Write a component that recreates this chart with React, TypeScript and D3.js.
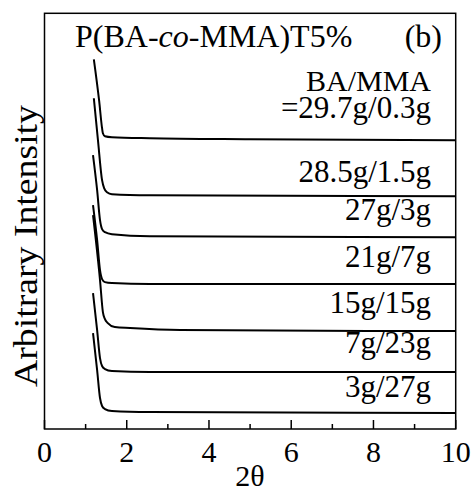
import React from "react";
import * as d3 from "d3";

// 2θ (deg) and arbitrary intensity (offset-stacked) for each BA/MMA ratio
const twoTheta1 = [1.2, 1.33, 1.4, 1.42, 1.47, 1.64, 2.56, 5.0, 10];
const intensity1 = [92.5, 82.0, 75.25, 74.0, 73.25, 73.0, 72.75, 72.5, 72.25];

const twoTheta2 = [1.2, 1.3, 1.4, 1.45, 1.52, 1.64, 2.56, 10];
const intensity2 = [82.75, 72.25, 62.25, 60.25, 59.25, 58.75, 58.5, 58.25];

const twoTheta3 = [1.18, 1.28, 1.35, 1.4, 1.47, 1.64, 2.56, 10];
const intensity3 = [68.5, 59.75, 52.25, 50.0, 49.25, 48.75, 48.25, 48.0];

const twoTheta4 = [1.18, 1.28, 1.35, 1.4, 1.47, 1.64, 2.56, 10];
const intensity4 = [56.0, 47.25, 39.75, 37.5, 36.75, 36.5, 36.25, 36.25];

const twoTheta5 = [1.18, 1.35, 1.42, 1.47, 1.54, 1.71, 2.08, 3.3, 10];
const intensity5 = [53.5, 37.25, 29.25, 27.5, 26.5, 25.5, 25.25, 24.75, 24.5];

const twoTheta6 = [1.18, 1.28, 1.35, 1.4, 1.47, 1.64, 2.56, 10];
const intensity6 = [34.0, 24.75, 17.75, 15.75, 15.0, 14.5, 14.25, 14.25];

const twoTheta7 = [1.18, 1.28, 1.35, 1.4, 1.47, 1.64, 2.56, 10];
const intensity7 = [24.0, 14.75, 7.75, 5.75, 5.0, 4.5, 4.25, 4.0];

const sampleLabels = [
  "=29.7g/0.3g",
  "28.5g/1.5g",
  "27g/3g",
  "21g/7g",
  "15g/15g",
  "7g/23g",
  "3g/27g",
];

const xTickValues = [0, 2, 4, 6, 8, 10];
const xMinorTicks = [1, 3, 5, 7, 9];

const series = [
  [twoTheta1, intensity1],
  [twoTheta2, intensity2],
  [twoTheta3, intensity3],
  [twoTheta4, intensity4],
  [twoTheta5, intensity5],
  [twoTheta6, intensity6],
  [twoTheta7, intensity7],
].map(([xs, ys]) => xs.map((t, i) => ({ t, v: ys[i] })));

// vertical gap (px) between each label's baseline and its pattern's tail
const labelGap = [22, 14, 17, 17, 18, 19, 16];

const W = 471;
const H = 487;
const left = 44.5;
const right = 455.7;
const top = 13.3;
const bottom = 429;
const FONT = '"Liberation Serif", "Times New Roman", serif';

export default function App() {
  const x = d3.scaleLinear().domain([0, 10]).range([left, right]);
  const y = d3.scaleLinear().domain([0, 104]).range([bottom, top]);
  const line = d3
    .line<{ t: number; v: number }>()
    .x((d) => x(d.t))
    .y((d) => y(d.v))
    .curve(d3.curveMonotoneX);

  const txt = { fontFamily: FONT };

  return (
    <svg
      width={W}
      height={H}
      viewBox={`0 0 ${W} ${H}`}
      style={{ position: "fixed", left: 0, top: 0, background: "#fff", fontFamily: FONT }}
    >
      <rect x={0} y={0} width={W} height={H} fill="#fff" />
      <defs>
        <clipPath id="plot">
          <rect x={left} y={top} width={right - left} height={bottom - top} />
        </clipPath>
      </defs>

      {/* patterns */}
      <g clipPath="url(#plot)">
        {series.map((s, i) => (
          <path
            key={i}
            d={line(s) || ""}
            fill="none"
            stroke="#000"
            strokeWidth={2}
            strokeLinejoin="round"
          />
        ))}
      </g>

      {/* ratio labels */}
      <text x={431} y={91} fontSize={30} textAnchor="end" fill="#000" style={txt}>
        BA/MMA
      </text>
      {sampleLabels.map((lab, i) => {
        const s = series[i];
        const last = s[s.length - 1].v;
        return (
          <text
            key={lab}
            x={431}
            y={y(last) - labelGap[i]}
            fontSize={31}
            textAnchor="end"
            fill="#000"
            style={txt}
          >
            {lab}
          </text>
        );
      })}

      {/* title */}
      <text x={75} y={47} fontSize={32} fill="#000" style={txt}>
        P(BA-<tspan fontStyle="italic">co</tspan>-MMA)T5%
      </text>
      <text x={442} y={47} fontSize={32} textAnchor="end" fill="#000" style={txt}>
        (b)
      </text>

      {/* frame */}
      <rect
        x={left}
        y={top}
        width={right - left}
        height={bottom - top}
        fill="none"
        stroke="#000"
        strokeWidth={1.5}
      />

      {/* x ticks */}
      {xTickValues.map((v) => (
        <g key={v}>
          <line x1={x(v)} x2={x(v)} y1={bottom} y2={bottom - 9} stroke="#000" strokeWidth={1.5} />
          <text x={x(v)} y={462} fontSize={30} textAnchor="middle" fill="#000" style={txt}>
            {v}
          </text>
        </g>
      ))}
      {xMinorTicks.map((v) => (
        <line key={v} x1={x(v)} x2={x(v)} y1={bottom} y2={bottom - 5} stroke="#000" strokeWidth={1.5} />
      ))}

      {/* axis titles */}
      <text x={250} y={486} fontSize={30} textAnchor="middle" fill="#000" style={txt}>
        2θ
      </text>
      <text
        transform={`translate(37, 246) rotate(-90)`}
        fontSize={34}
        textAnchor="middle"
        textLength={282}
        lengthAdjust="spacingAndGlyphs"
        fill="#000"
        style={txt}
      >
        Arbitrary Intensity
      </text>
    </svg>
  );
}
